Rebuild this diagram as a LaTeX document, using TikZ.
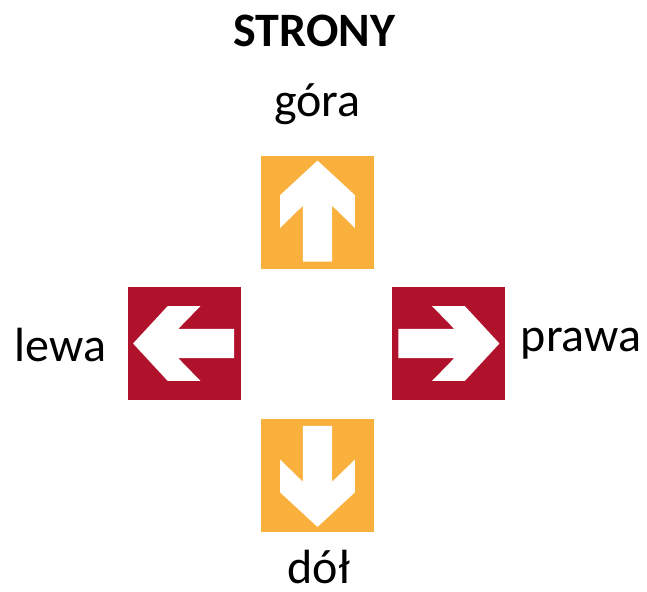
\documentclass[tikz,border=0pt]{standalone}
\usepackage{fontspec}
\setmainfont{Carlito}
\definecolor{signamber}{RGB}{250,176,60}
\definecolor{signred}{RGB}{176,18,43}
\tikzset{
  signsq/.style={minimum size=113pt, inner sep=0pt, outer sep=0pt, draw=none},
  ambersq/.style={signsq, fill=signamber},
  redsq/.style={signsq, fill=signred},
  word/.style={font=\fontsize{48}{58}\selectfont, anchor=base, inner sep=0pt, text=black},
}
% white block arrow inside a sign square; #2 is the rotation (0 = up)
\newcommand\signarrow[2]{%
  \fill[white, shift={(#1.center)}, rotate=#2, x=113pt, y=113pt]
    (0,0.455) -- (0.33,0.15) -- (0.33,-0.14) -- (0.13,0.055) -- (0.13,-0.44)
    -- (-0.13,-0.44) -- (-0.13,0.055) -- (-0.33,-0.14) -- (-0.33,0.15) -- cycle;
}
\begin{document}
\begin{tikzpicture}[x=1pt, y=-1pt]
  \useasboundingbox (0,0) rectangle (647,591);

  % sign squares
  \node[ambersq] (up)    at (317.5,212) {};
  \node[redsq]   (left)  at (184.5,343.5) {};
  \node[redsq]   (right) at (448,343.5) {};
  \node[ambersq] (down)  at (317.5,475.5) {};

  \signarrow{up}{0}
  \signarrow{left}{90}
  \signarrow{right}{-90}
  \signarrow{down}{180}

  % labels
  \node[word, font=\fontsize{48}{58}\selectfont\bfseries] (title) at (314.5,47) {STRONY};
  \node[word] (lup)    at (317.5,116.5) {góra};
  \node[word] (lleft)  at (60.5,361.5) {lewa};
  \node[word] (lright) at (581,351.5) {prawa};
  \node[word] (ldown)  at (319,583) {dół};
\end{tikzpicture}
\end{document}
